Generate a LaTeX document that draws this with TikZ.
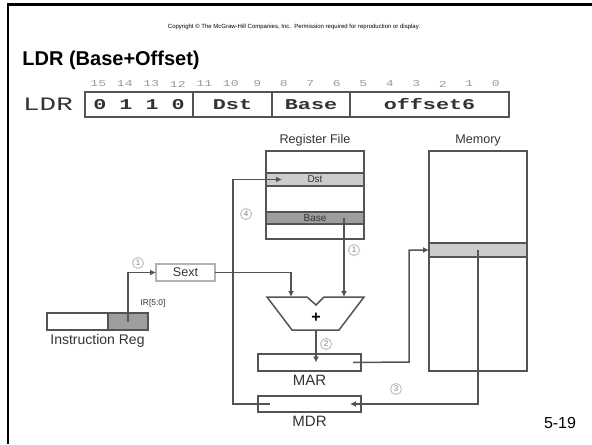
\documentclass[tikz,border=0pt]{standalone}
\usepackage{fontspec}
\setmainfont{Liberation Sans}
\newfontfamily\ldrfont[FakeStretch=1.45]{Liberation Mono}
\usepackage{tikz}
\usetikzlibrary{positioning, arrows.meta}
\definecolor{wiregray}{gray}{0.33}
\definecolor{textgray}{gray}{0.2}
\definecolor{bitgray}{gray}{0.6}
\definecolor{dstgray}{gray}{0.8}
\definecolor{basegray}{gray}{0.62}
\definecolor{sextgray}{gray}{0.7}
\definecolor{circgray}{gray}{0.75}
\definecolor{numgray}{gray}{0.5}
\tikzset{font={\fontsize{7pt}{8}\selectfont}}

\begin{document}
\begin{tikzpicture}[
  x=0.5pt, y=-0.5pt,
  node distance=0pt,
  box/.style={rectangle, draw=wiregray, line width=0.75pt, fill=white, inner sep=0pt, outer sep=0pt},
  field/.style={box, minimum height=12.5pt, text=textgray, font=\ldrfont\bfseries\fontsize{7.5pt}{8}\selectfont},
  bitnum/.style={text=bitgray, inner sep=0pt, font=\ldrfont\fontsize{4.5pt}{5}\selectfont},
  row/.style={box, minimum width=49pt, minimum height=6.5pt, text=textgray, font=\fontsize{5pt}{6}\selectfont},
  lbl/.style={text=textgray, inner sep=1pt},
  stepnum/.style={circle, draw=circgray, line width=0.5pt, text=numgray, inner sep=0pt, minimum size=5.5pt, font=\fontsize{4pt}{4}\selectfont},
  wire/.style={draw=wiregray, line width=0.75pt},
  arr/.style={wire, -{Latex[length=3pt, width=3pt]}}
]
\useasboundingbox (0,0) rectangle (592,444);
\draw[line width=1.2pt] (592,4.5) -- (8,4.5) -- (8,444);
\node[font=\fontsize{3pt}{3}\selectfont] (copy) at (294,27) {Copyright \textcopyright{} The McGraw-Hill Companies, Inc.\ \ Permission required for reproduction or display.};
\node[anchor=base west, inner sep=0pt, font=\bfseries\fontsize{10pt}{12}\selectfont] (title) at (22,66) {LDR (Base+Offset)};

\node[text=textgray, font=\ldrfont\fontsize{9.5pt}{10}\selectfont] (ldr) at (48,104) {LDR};
\node[field, minimum width=54pt] (op) at (139,104.5) {0 1 1 0};
\node[field, minimum width=39.5pt, right=of op] (dst) {Dst};
\node[field, minimum width=39pt, right=of dst] (base) {Base};
\node[field, minimum width=79.5pt, right=of base] (off) {offset6};
\foreach \b in {0,...,15}
  \node[bitnum] (bit\b) at ({495.75-26.5*\b}, 84) {\b};

\node[box, minimum width=49pt, minimum height=44pt] (rf) at (315,195) {};
\node[row, fill=dstgray] (dstrow) at (315,179.5) {Dst};
\node[row, fill=basegray, minimum height=6pt] (baserow) at (315,218) {Base};
\node[lbl, above=1pt of rf, font=\fontsize{6.3pt}{7}\selectfont] (rflbl) {Register File};

\node[box, minimum width=49pt, minimum height=110pt] (mem) at (478,261) {};
\node[row, fill=dstgray, minimum height=7pt] (memrow) at (478,250) {};
\node[lbl, above=1pt of mem, font=\fontsize{6.3pt}{7}\selectfont] (memlbl) {Memory};

\node[box, minimum width=51.5pt, minimum height=8.5pt] (mar) at (309.5,362.5) {};
\node[lbl, below=1pt of mar, font=\fontsize{7.5pt}{8}\selectfont] (marlbl) {MAR};
\node[box, minimum width=51.5pt, minimum height=8pt] (mdr) at (309.5,404) {};
\node[lbl, below=1pt of mdr, font=\fontsize{7.5pt}{8}\selectfont] (mdrlbl) {MDR};

\node[box, draw=sextgray, minimum width=29.5pt, minimum height=8.5pt, text=textgray, font=\fontsize{6.3pt}{7}\selectfont] (sext) at (185.5,272.5) {Sext};
\node[box, minimum width=50.5pt, minimum height=8.5pt] (ir) at (97.5,321.5) {};
\node[box, fill=basegray, minimum width=20pt, minimum height=8.5pt, anchor=east] (irlow) at (ir.east) {};
\node[lbl, below=1pt of ir, font=\fontsize{7pt}{8}\selectfont] (irlbl) {Instruction Reg};
\node[lbl, font=\fontsize{4.2pt}{5}\selectfont] (irbits) at (153,303) {IR[5:0]};

\draw[wire, fill=white] (267,297) -- (307,297) -- (316,305) -- (324,297) -- (364,297) -- (339,330) -- (292,330) -- cycle;
\coordinate (ain) at (291,297);
\coordinate (bin) at (344,297);
\coordinate (aout) at (316,330);
\node[font=\bfseries\fontsize{8pt}{8}\selectfont] (plus) at (316,318) {+};

\coordinate (mbend) at (409,362);
\coordinate (dbend) at (233,404);
\draw[arr] (irlow.center) |- (sext.west);
\draw[arr] (sext.east) -| (ain);
\draw[arr] (bin |- baserow.center) -- (bin);
\draw[arr] (aout) -- (aout |- mar.center);
\draw[arr] ([xshift=-4pt]mar.east) -- (mbend) |- (memrow.west);
\draw[arr] (memrow.center) |- ([xshift=-5.5pt]mdr.east);
\draw[arr] ([xshift=6pt]mdr.west) -- (dbend) |- ([xshift=8pt]dstrow.west);

\node[stepnum] (s1a) at (138,263) {1};
\node[stepnum] (s1b) at (354,250) {1};
\node[stepnum] (s2) at (326,344) {2};
\node[stepnum] (s3) at (396,389) {3};
\node[stepnum] (s4) at (246,214) {4};

\node[font=\fontsize{8pt}{9}\selectfont] (pg) at (560,423) {5-19};
\end{tikzpicture}
\end{document}
